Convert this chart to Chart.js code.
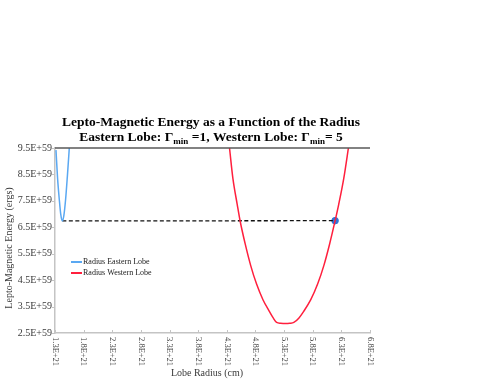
<!DOCTYPE html>
<html>
<head>
<meta charset="utf-8">
<script src="https://cdn.jsdelivr.net/npm/chart.js@4.4.1/dist/chart.umd.min.js"></script>
<style>
  html, body { margin: 0; padding: 0; background: #fff; }
  #wrap { width: 498px; height: 385px; }
</style>
</head>
<body>
<div id="wrap"><canvas id="chart" width="498" height="385"></canvas></div>
<script>
// radius in units of 1E+21 cm, energy in units of 1E+59 ergs
const eastRadius = [1.317, 1.345, 1.375, 1.40, 1.428, 1.455, 1.485, 1.515, 1.545, 1.575];
const eastEnergy = [9.42, 8.35, 7.55, 7.0, 6.74, 6.95, 7.55, 8.4, 9.35, 10.4];

const westRadius = [4.301, 4.347, 4.406, 4.482, 4.535, 4.622, 4.716, 4.818, 4.931, 5.045, 5.11, 5.17, 5.24, 5.32,
                    5.40, 5.47, 5.56, 5.639, 5.766, 5.887, 5.995, 6.094, 6.189, 6.253, 6.342, 6.423, 6.468];
const westEnergy = [10.36, 9.5, 8.35, 7.36, 6.71, 5.86, 5.06, 4.36, 3.76, 3.31, 3.07, 2.90, 2.87, 2.86,
                    2.87, 2.90, 3.07, 3.31, 3.76, 4.36, 5.06, 5.86, 6.73, 7.36, 8.35, 9.5, 10.16];

const matchRadius = [1.428, 6.19];
const matchEnergy = [6.74, 6.75];

const xTickValues = [1.3, 1.8, 2.3, 2.8, 3.3, 3.8, 4.3, 4.8, 5.3, 5.8, 6.3, 6.8];
const xTickLabels = ['1.3E+21', '1.8E+21', '2.3E+21', '2.8E+21', '3.3E+21', '3.8E+21',
                     '4.3E+21', '4.8E+21', '5.3E+21', '5.8E+21', '6.3E+21', '6.8E+21'];
const yTickValues = [2.5, 3.5, 4.5, 5.5, 6.5, 7.5, 8.5, 9.5];
const yTickLabels = ['2.5E+59', '3.5E+59', '4.5E+59', '5.5E+59', '6.5E+59', '7.5E+59', '8.5E+59', '9.5E+59'];

const pts = (xs, ys) => xs.map((v, i) => ({ x: v, y: ys[i] }));
const serif = '"Liberation Serif", "Times New Roman", serif';

// draws the labels, titles and legend the way the original spreadsheet chart does
const overlay = {
  id: 'overlay',
  afterDraw(chart) {
    const { ctx, chartArea: a, scales: { x, y } } = chart;
    ctx.save();

    // top frame line
    ctx.strokeStyle = '#595959';
    ctx.lineWidth = 1.5;
    ctx.beginPath();
    ctx.moveTo(a.left, a.top);
    ctx.lineTo(a.right, a.top);
    ctx.stroke();

    // small tick marks
    ctx.strokeStyle = '#c4c4c4';
    ctx.lineWidth = 1;
    xTickValues.forEach(v => {
      const px = Math.round(x.getPixelForValue(v)) + 0.5;
      ctx.beginPath(); ctx.moveTo(px, a.bottom); ctx.lineTo(px, a.bottom - 3); ctx.stroke();
    });
    yTickValues.forEach(v => {
      const py = Math.round(y.getPixelForValue(v)) + 0.5;
      ctx.beginPath(); ctx.moveTo(a.left - 3, py); ctx.lineTo(a.left, py); ctx.stroke();
    });

    ctx.fillStyle = '#3a3a3a';

    // y tick labels
    ctx.font = '10px ' + serif;
    ctx.textAlign = 'right';
    ctx.textBaseline = 'middle';
    yTickValues.forEach((v, i) => ctx.fillText(yTickLabels[i], a.left - 3, y.getPixelForValue(v)));

    // x tick labels, turned clockwise
    ctx.font = '8.5px ' + serif;
    ctx.textAlign = 'left';
    xTickValues.forEach((v, i) => {
      ctx.save();
      ctx.translate(x.getPixelForValue(v), a.bottom + 4);
      ctx.rotate(Math.PI / 2);
      ctx.fillText(xTickLabels[i], 0, 0);
      ctx.restore();
    });

    // axis titles
    ctx.font = '10px ' + serif;
    ctx.textAlign = 'center';
    ctx.fillText('Lobe Radius (cm)', 207, 373);
    ctx.save();
    ctx.translate(9, 248);
    ctx.rotate(-Math.PI / 2);
    ctx.fillText('Lepto-Magnetic Energy (ergs)', 0, 0);
    ctx.restore();

    // legend
    ctx.font = '8px ' + serif;
    ctx.textAlign = 'left';
    [0, 1].forEach((d, i) => {
      const ds = chart.data.datasets[d];
      const ly = 262 + i * 11;
      ctx.strokeStyle = ds.borderColor;
      ctx.lineWidth = 2;
      ctx.beginPath(); ctx.moveTo(71, ly); ctx.lineTo(82, ly); ctx.stroke();
      ctx.fillStyle = '#222';
      ctx.fillText(ds.label, 83, ly);
    });

    // chart title with subscripts
    ctx.fillStyle = '#000';
    ctx.textBaseline = 'alphabetic';
    ctx.textAlign = 'left';
    const big = 'bold 13.5px ' + serif;
    const small = 'bold 9px ' + serif;
    ctx.font = big;
    const line1 = 'Lepto-Magnetic Energy as a Function of the Radius';
    ctx.fillText(line1, 211 - ctx.measureText(line1).width / 2, 126);
    const parts = [['Eastern Lobe: \u0393', false], ['min', true], [' =1, Western Lobe: \u0393', false], ['min', true], ['= 5', false]];
    let w = 0;
    parts.forEach(([t, sub]) => { ctx.font = sub ? small : big; w += ctx.measureText(t).width; });
    let cx = 211 - w / 2;
    parts.forEach(([t, sub]) => {
      ctx.font = sub ? small : big;
      ctx.fillText(t, cx, sub ? 144 : 141);
      cx += ctx.measureText(t).width;
    });

    ctx.restore();
  }
};

new Chart(document.getElementById('chart'), {
  type: 'scatter',
  data: {
    datasets: [
      {
        label: 'Radius Eastern Lobe',
        data: pts(eastRadius, eastEnergy),
        showLine: true,
        borderColor: '#5aa8f2',
        borderWidth: 1.5,
        pointRadius: 0,
        cubicInterpolationMode: 'monotone'
      },
      {
        label: 'Radius Western Lobe',
        data: pts(westRadius, westEnergy),
        showLine: true,
        borderColor: '#ff1f3d',
        borderWidth: 1.5,
        pointRadius: 0,
        cubicInterpolationMode: 'monotone'
      },
      {
        label: 'match',
        data: pts(matchRadius, matchEnergy),
        showLine: true,
        borderColor: '#111',
        borderWidth: 1.3,
        borderDash: [4, 2.5],
        pointRadius: 0
      },
      {
        label: 'point',
        data: pts(matchRadius.slice(1), matchEnergy.slice(1)),
        showLine: false,
        pointRadius: 3.3,
        pointBackgroundColor: '#2f74d8',
        pointBorderColor: '#2f74d8'
      }
    ]
  },
  options: {
    responsive: false,
    animation: false,
    layout: { padding: { left: 55, top: 148, right: 128, bottom: 52 } },
    plugins: { legend: { display: false }, tooltip: { enabled: false } },
    scales: {
      x: {
        type: 'linear', min: 1.3, max: 6.8,
        ticks: { display: false, stepSize: 0.5 },
        grid: { drawOnChartArea: false, drawTicks: false },
        border: { color: '#c4c4c4', width: 1.5 }
      },
      y: {
        type: 'linear', min: 2.5, max: 9.5,
        ticks: { display: false, stepSize: 1 },
        grid: { drawOnChartArea: false, drawTicks: false },
        border: { color: '#c4c4c4', width: 1.5 }
      }
    }
  },
  plugins: [overlay]
});
</script>
</body>
</html>
